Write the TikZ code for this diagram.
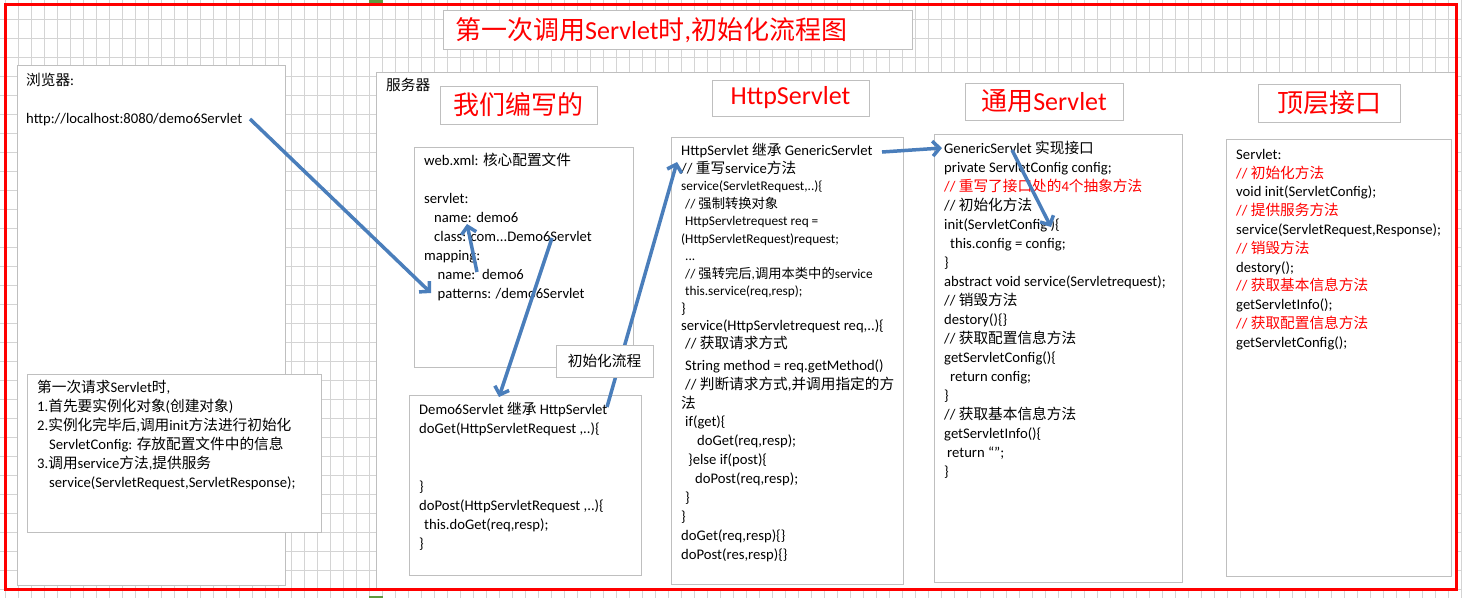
\documentclass[tikz,border=0pt]{standalone}
\usepackage{fontspec}
\setmainfont{Carlito}
\newfontfamily\cjk{Noto Sans CJK SC}
\usetikzlibrary{arrows.meta}
\definecolor{gridc}{HTML}{D4D4D4}
\definecolor{boxc}{HTML}{BFBFBF}
\definecolor{arrc}{HTML}{4A7EBB}
\definecolor{redc}{HTML}{FF0000}
\definecolor{grn}{HTML}{5E9A3E}
\newcommand\C[1]{{\cjk #1}}
\newcommand\fs[2]{\fontsize{#1}{#2}\selectfont}
\newcommand\fst{\rule{0pt}{13.3pt}}
\begin{document}
\begin{tikzpicture}[x=1pt,y=-1pt,
  box/.style={draw=boxc, line width=1pt, fill=white, anchor=north west, inner sep=0pt, outer sep=0pt},
  lbltext/.style={text=redc, inner sep=0pt, font=\fs{26}{30}},
  code/.style={anchor=north west, inner sep=0pt, align=left, font=\fs{14.67}{19}},
  arr/.style={draw=arrc, line width=3.5pt, -{Straight Barb[length=7pt,width=15pt]}}
]
\useasboundingbox (0,0) rectangle (1462,598);
\fill[white] (0,0) rectangle (1462,598);
% grid
\foreach \i in {0,...,112} {\draw[gridc, line width=0.9pt] (5.3+13*\i,0) -- ++(0,598);}
\foreach \j in {1,...,31} {\draw[gridc, line width=0.9pt] (0,19*\j) -- ++(1462,0);}
% excel markers
\fill[grn] (369,0) rectangle (383,2.5);
\fill[grn] (369,595.5) rectangle (383,598);

% title
\node[box, minimum width=469pt, minimum height=39pt] (titlebox) at (443,10) {};
\node[anchor=west, inner sep=0pt, text=redc, font=\fs{26}{30}] (title) at (455,30) {\C{第一次调用}Servlet\C{时},\C{初始化流程图}};

% browser
\node[box, minimum width=268pt, minimum height=520pt] (browser) at (17,65) {};
\node[code] (browsertext) at (26,71.7) {\fst\C{浏览器}:\\[19pt]http://localhost:8080/demo6Servlet};

% note
\node[box, minimum width=294pt, minimum height=158pt] (note) at (27,374) {};
\node[code] (notetext) at (37,378.7) {\fst\C{第一次请求}Servlet\C{时},\\
1.\C{首先要实例化对象}(\C{创建对象})\\
2.\C{实例化完毕后},\C{调用}init\C{方法进行初始化}\\
\hspace*{12pt}ServletConfig: \C{存放配置文件中的信息}\\
3.\C{调用}service\C{方法},\C{提供服务}\\
\hspace*{12pt}service(ServletRequest,ServletResponse);};

% server
\node[box, minimum width=1080pt, minimum height=517pt] (server) at (376,72) {};
\node[code] (servertext) at (386,76.7) {\fst\C{服务器}};

% labels
\node[box, minimum width=157pt, minimum height=38pt] (lbl1) at (440,86) {};
\node[lbltext] (lbl1t) at (lbl1.center) {\C{我们编写的}};
\node[box, minimum width=157pt, minimum height=36pt] (lbl2) at (712,80) {};
\node[lbltext] (lbl2t) at (lbl2.center) {HttpServlet};
\node[box, minimum width=158pt, minimum height=37pt] (lbl3) at (965,83) {};
\node[lbltext] (lbl3t) at (lbl3.center) {\C{通用}Servlet};
\node[box, minimum width=142pt, minimum height=38pt] (lbl4) at (1258,84) {};
\node[lbltext] (lbl4t) at (lbl4.center) {\C{顶层接口}};

% web.xml
\node[box, minimum width=219pt, minimum height=220pt] (webxml) at (414,147) {};
\node[code] (webxmltext) at (424,151.7) {\fst web.xml: \C{核心配置文件}\\[19pt]
servlet:\\
\hspace*{10pt}name: demo6\\
\hspace*{10pt}class: com...Demo6Servlet\\
mapping:\\
\hspace*{13.5pt}name:\ \ demo6\\
\hspace*{13.5pt}patterns: /demo6Servlet};

% Demo6Servlet
\node[box, minimum width=232pt, minimum height=180pt] (demo6) at (409,395) {};
\node[code] (demo6text) at (419,400.7) {\fst Demo6Servlet \C{继承} HttpServlet\\
doGet(HttpServletRequest ,..)\{\\[39pt]
\}\\
doPost(HttpServletRequest ,..)\{\\
\hspace*{5pt}this.doGet(req,resp);\\
\}};

% HttpServlet
\node[box, minimum width=232pt, minimum height=447pt] (http) at (671,137) {};
\node[code, font=\fs{14.67}{17.5}] (httptexta) at (681,142.4) {\fst HttpServlet \C{继承} GenericServlet\\
// \C{重写}service\C{方法}\\
{\fs{13.3}{17.5}service(ServletRequest,..)\{}\\
{\fs{13.3}{17.5}\hspace*{4pt}// \C{强制转换对象}}\\
{\fs{13.3}{17.5}\hspace*{4pt}HttpServletrequest req =}\\
{\fs{13.3}{17.5}(HttpServletRequest)request;}\\
{\fs{13.3}{17.5}\hspace*{4pt}...}\\
{\fs{13.3}{17.5}\hspace*{4pt}// \C{强转完后},\C{调用本类中的}service}\\
{\fs{13.3}{17.5}\hspace*{4pt}this.service(req,resp);}\\
\}\\
service(HttpServletrequest req,..)\{\\
\hspace*{4pt}// \C{获取请求方式}};
\node[code, font=\fs{14.67}{18.9}] (httptextb) at (681,356.7) {\fst\hspace*{4pt}String method = req.getMethod()\\
\hspace*{4pt}// \C{判断请求方式},\C{并调用指定的方}\\
\C{法}\\
\hspace*{4pt}if(get)\{\\
\hspace*{16pt}doGet(req,resp);\\
\hspace*{7pt}\}else if(post)\{\\
\hspace*{14pt}doPost(req,resp);\\
\hspace*{4pt}\}\\
\}\\
doGet(req,resp)\{\}\\
doPost(res,resp)\{\}};

% GenericServlet
\node[box, minimum width=248pt, minimum height=448pt] (generic) at (934,134) {};
\node[code] (generictext) at (944,140) {\fst GenericServlet \C{实现接口}\\
private ServletConfig config;\\
{\color{redc}// \C{重写了接口处的}4\C{个抽象方法}}\\
// \C{初始化方法}\\
init(ServletConfig )\{\\
\hspace*{6pt}this.config = config;\\
\}\\
abstract void service(Servletrequest);\\
// \C{销毁方法}\\
destory()\{\}\\
// \C{获取配置信息方法}\\
getServletConfig()\{\\
\hspace*{6pt}return config;\\
\}\\
// \C{获取基本信息方法}\\
getServletInfo()\{\\
\hspace*{3pt}return “”;\\
\}};

% Servlet
\node[box, minimum width=225pt, minimum height=437pt] (servlet) at (1226,139) {};
\node[code, font=\fs{14.67}{18.8}] (servlettext) at (1236,145.7) {\fst Servlet:\\
{\color{redc}// \C{初始化方法}}\\
void init(ServletConfig);\\
{\color{redc}// \C{提供服务方法}}\\
service(ServletRequest,Response);\\
{\color{redc}// \C{销毁方法}}\\
destory();\\
{\color{redc}// \C{获取基本信息方法}}\\
getServletInfo();\\
{\color{redc}// \C{获取配置信息方法}}\\
getServletConfig();};

% arrows
\coordinate (a1s) at (250,119); \coordinate (a1e) at (431,293);
\coordinate (a2s) at (477,272); \coordinate (a2e) at (467,224);
\coordinate (a3s) at (552,238); \coordinate (a3e) at (499,397);
\coordinate (a4s) at (607,407); \coordinate (a4e) at (677,162);
\coordinate (a5s) at (882,152); \coordinate (a5e) at (942,148);
\coordinate (a6s) at (1012,150); \coordinate (a6e) at (1051,227);
\draw[arr] (a1s) -- (a1e);
\draw[arr] (a2s) -- (a2e);
\draw[arr] (a3s) -- (a3e);
\draw[arr] (a4s) -- (a4e);
\draw[arr] (a5s) -- (a5e);
\draw[arr] (a6s) -- (a6e);

% init flow label (over arrow)
\node[box, minimum width=97pt, minimum height=32pt] (initflow) at (556,345) {};
\node[inner sep=0pt, font=\fs{14.67}{19}] (initflowt) at (initflow.center) {\C{初始化流程}};

% red frame
\draw[redc, line width=3.5pt] (5.7,4.7) rectangle (1456.5,589.5);
\end{tikzpicture}
\end{document}
